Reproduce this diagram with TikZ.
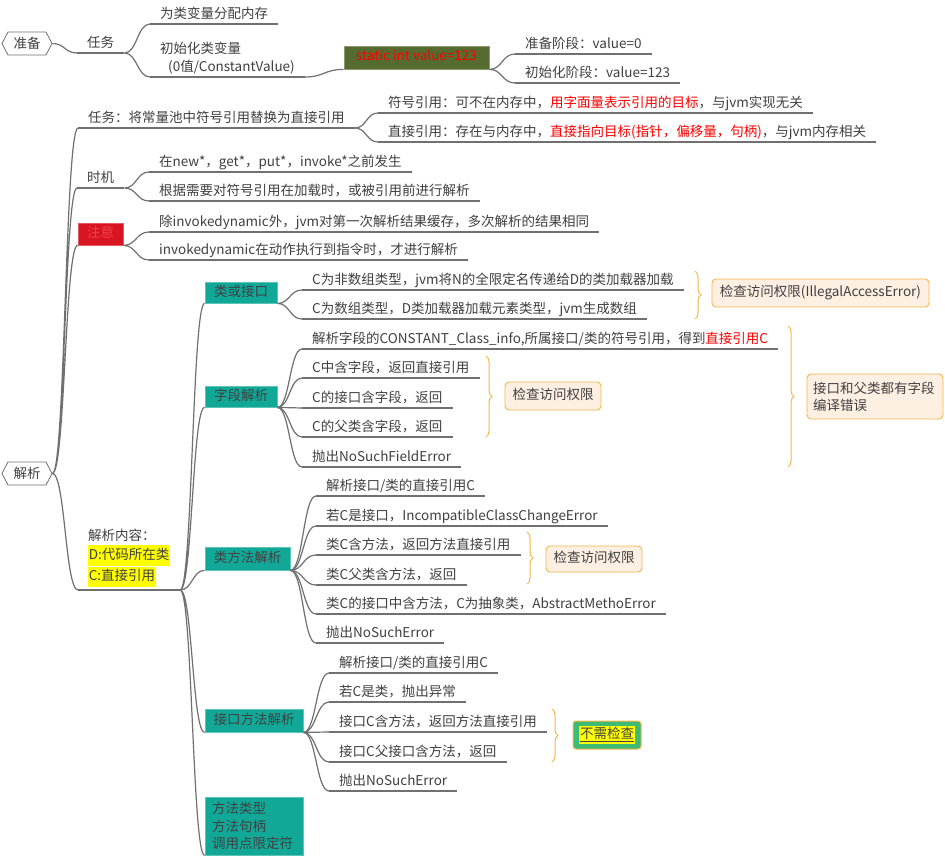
\documentclass[tikz,border=0pt]{standalone}
\usepackage{fontspec}
\setmainfont{Noto Sans CJK SC}
\usetikzlibrary{calc,shapes.symbols,decorations.pathreplacing}
\definecolor{txt}{HTML}{404040}
\definecolor{ln}{HTML}{707070}
\definecolor{tealf}{HTML}{12A897}
\definecolor{teald}{HTML}{5CC5B8}
\definecolor{redf}{HTML}{D7141F}
\definecolor{redt}{HTML}{F04050}
\definecolor{olive}{HTML}{556B2F}
\definecolor{oliveb}{HTML}{8C9A6C}
\definecolor{orng}{HTML}{F5B74A}
\definecolor{orf}{HTML}{FDEFE2}
\definecolor{grn}{HTML}{3DBB74}
\definecolor{hl}{HTML}{FFFF00}
\definecolor{rd}{HTML}{FF0000}
\newcommand\fs{\fontsize{13.5}{17}\selectfont}
\newcommand\hlt[1]{{\setlength{\fboxsep}{0.6pt}\colorbox{hl}{\strut #1}}}
\begin{document}
\begin{tikzpicture}[x=1pt,y=-1pt,
  base/.style={font=\fs, text=txt, inner xsep=10pt, inner ysep=2pt, anchor=south west},
  leaf/.style={base, text height=10.5pt, text depth=3.5pt},
  multi/.style={base, align=left, inner ysep=3pt},
  hex/.style={signal, signal to=west and east, signal pointer angle=125, draw=ln, line width=0.8pt, fill=white, minimum width=50pt, minimum height=23pt, inner sep=1pt, font=\fs, text=txt},
  tboxbase/.style={fill=tealf, draw=teald, line width=0.8pt, text=txt, font=\fs, inner sep=0pt},
  tbox/.style={tboxbase, minimum height=21pt, text height=10.5pt, text depth=3.5pt},
  ob/.style={draw=orng, fill=orf, rounded corners=4pt, line width=0.9pt, font=\fs, text=txt, inner sep=0pt, text height=10.5pt, text depth=3.5pt},
  conn/.style={draw=ln, line width=1.2pt},
  ul/.style={draw=ln, line width=1.2pt},
  br/.style={draw=orng, line width=1pt, decorate, decoration={brace, amplitude=6pt}},
  mm/.style={to path={let \p1=(\tikztostart), \p2=(\tikztotarget) in .. controls ({0.5*\x1+0.5*\x2},\y1) and ({0.5*\x1+0.5*\x2},\y2) .. (\tikztotarget)}}
]
\useasboundingbox[fill=white] (0,0) rectangle (945,856);

% ---------- 准备 ----------
\node[hex] (zb) at (27,43.5) {准备};
\node[leaf] (rw) at (77,53) {任务};
\node[leaf] (fp) at (150,24) {为类变量分配内存};
\node[multi, font=\fontsize{13.5}{18}\selectfont] (csh) at (150,77) {初始化类变量\\\hspace*{8pt}(0值/ConstantValue)};
\node[fill=olive, draw=oliveb, line width=0.8pt, minimum width=145pt, minimum height=23pt, inner sep=0pt, font=\fs, text=rd, text height=10.5pt, text depth=3.5pt] (st) at (416.5,57.5) {static int value=123};
\node[leaf] (zbv) at (515,54) {准备阶段：value=0};
\node[leaf] (csv) at (515,83) {初始化阶段：value=123};

\draw[conn] (zb.east) to[mm] (rw.south west);
\draw[conn] (rw.south east) to[mm] (fp.south west) (rw.south east) to[mm] (csh.south west);
\draw[conn] (csh.south east) to[mm] (st.south west);
\draw[conn] (st.south east) to[mm] (zbv.south west) (st.south east) to[mm] (csv.south west);

% ---------- 解析 ----------
\node[hex] (jx) at (27,473.5) {解析};
\node[leaf] (rw2) at (78,128) {任务：将常量池中符号引用替换为直接引用};
\node[leaf] (fh) at (378,113) {符号引用：可不在内存中，\textcolor{rd}{用字面量表示引用的目标}，与jvm实现无关};
\node[leaf] (zj) at (378,142) {直接引用：存在与内存中，\textcolor{rd}{直接指向目标(指针，偏移量，句柄)}，与jvm内存相关};
\node[leaf] (sj) at (77,188) {时机};
\node[leaf] (sj1) at (149,172) {在new*，get*，put*，invoke*之前发生};
\node[leaf] (sj2) at (149,201) {根据需要对符号引用在加载时，或被引用前进行解析};
\node[fill=redf, draw=redf!70!white, line width=0.8pt, minimum width=45pt, minimum height=22pt, inner sep=0pt, font=\fs, text=redt, text height=10.5pt, text depth=3.5pt] (zy) at (100.5,234) {注意};
\node[leaf] (zy1) at (149,232) {除invokedynamic外，jvm对第一次解析结果缓存，多次解析的结果相同};
\node[leaf] (zy2) at (149,260) {invokedynamic在动作执行到指令时，才进行解析};
\node[multi, font=\fontsize{13.5}{19}\selectfont] (nr) at (78,590) {解析内容：\\\hlt{D:代码所在类}\\\hlt{C:直接引用}};

\draw[conn] (jx.east) to[mm] (rw2.south west) (jx.east) to[mm] (sj.south west)
            (jx.east) to[mm] (zy.south west) (jx.east) to[mm] (nr.south west);
\draw[conn] (rw2.south east) to[mm] (fh.south west) (rw2.south east) to[mm] (zj.south west);
\draw[conn] (sj.south east) to[mm] (sj1.south west) (sj.south east) to[mm] (sj2.south west);
\draw[conn] (zy.south east) to[mm] (zy1.south west) (zy.south east) to[mm] (zy2.south west);

% sub boxes
\node[tbox, minimum width=72pt] (lh) at (241,292.5) {类或接口};
\node[tbox, minimum width=72pt] (zd) at (241,396.5) {字段解析};
\node[tbox, minimum width=85pt, minimum height=23pt] (lf) at (247.5,558.5) {类方法解析};
\node[tbox, minimum width=98pt, minimum height=23pt] (jk) at (254,720.5) {接口方法解析};
\node[tboxbase, minimum width=98pt, minimum height=58pt, align=left, text width=84pt, inner xsep=7pt, font=\fontsize{13.5}{17.5}\selectfont] (ff) at (254,826) {方法类型\\方法句柄\\调用点限定符};

\draw[conn] (nr.south east) to[mm] (lh.south west) (nr.south east) to[mm] (zd.south west)
            (nr.south east) to[mm] (lf.south west) (nr.south east) to[mm] (jk.south west)
            (nr.south east) to[mm] (ff.south west);

% 类或接口
\node[leaf] (lh1) at (302,290) {C为非数组类型，jvm将N的全限定名传递给D的类加载器加载};
\node[leaf] (lh2) at (302,319) {C为数组类型，D类加载器加载元素类型，jvm生成数组};
\draw[conn] (lh.south east) to[mm] (lh1.south west) (lh.south east) to[mm] (lh2.south west);

% 字段解析
\node[leaf] (zd1) at (302,349) {解析字段的CONSTANT\_Class\_info,所属接口/类的符号引用，得到\textcolor{rd}{直接引用C}};
\node[leaf] (zd2) at (302,378) {C中含字段，返回直接引用};
\node[leaf] (zd3) at (302,408) {C的接口含字段，返回};
\node[leaf] (zd4) at (302,437) {C的父类含字段，返回};
\node[leaf] (zd5) at (302,467) {抛出NoSuchFieldError};
\foreach \q in {zd1,zd2,zd3,zd4,zd5} \draw[conn] (zd.south east) to[mm] (\q.south west);

% 类方法解析
\node[leaf] (lf1) at (316,496) {解析接口/类的直接引用C};
\node[leaf] (lf2) at (316,526) {若C是接口，IncompatibleClassChangeError};
\node[leaf] (lf3) at (316,555) {类C含方法，返回方法直接引用};
\node[leaf] (lf4) at (316,585) {类C父类含方法，返回};
\node[leaf] (lf5) at (316,614) {类C的接口中含方法，C为抽象类，AbstractMethoError};
\node[leaf] (lf6) at (316,643) {抛出NoSuchError};
\foreach \q in {lf1,lf2,lf3,lf4,lf5,lf6} \draw[conn] (lf.south east) to[mm] (\q.south west);

% 接口方法解析
\node[leaf] (jk1) at (329,673) {解析接口/类的直接引用C};
\node[leaf] (jk2) at (329,702) {若C是类，抛出异常};
\node[leaf] (jk3) at (329,732) {接口C含方法，返回方法直接引用};
\node[leaf] (jk4) at (329,762) {接口C父接口含方法，返回};
\node[leaf] (jk5) at (329,791) {抛出NoSuchError};
\foreach \q in {jk1,jk2,jk3,jk4,jk5} \draw[conn] (jk.south east) to[mm] (\q.south west);

% underlines
\foreach \q in {rw,fp,csh,zbv,csv,rw2,fh,zj,sj,sj1,sj2,zy1,zy2,nr,lh1,lh2,zd1,zd2,zd3,zd4,zd5,lf1,lf2,lf3,lf4,lf5,lf6,jk1,jk2,jk3,jk4,jk5}
  \draw[ul] (\q.south west) -- (\q.south east);

% braces and notes
\coordinate (b1t) at (695,271); \coordinate (b1b) at (695,319);
\coordinate (b2t) at (486,356); \coordinate (b2b) at (486,437);
\coordinate (b3t) at (788,326); \coordinate (b3b) at (788,467);
\coordinate (b4t) at (527,532); \coordinate (b4b) at (527,584);
\coordinate (b5t) at (552,709); \coordinate (b5b) at (552,762);
\draw[br] (b1t) -- (b1b);
\draw[br] (b2t) -- (b2b);
\draw[br] (b3t) -- (b3b);
\draw[br] (b4t) -- (b4b);
\draw[br] (b5t) -- (b5b);

\node[ob, minimum width=217pt, minimum height=28pt] (ob1) at (820.5,293) {检查访问权限(IllegalAccessError)};
\node[ob, minimum width=96pt, minimum height=28pt] (ob2) at (553,396) {检查访问权限};
\node[draw=orng, fill=orf, rounded corners=4pt, line width=0.9pt, text=txt, minimum width=136pt, minimum height=45pt, align=left, text width=124pt, inner xsep=6pt, font=\fontsize{13.5}{17}\selectfont] (ob3) at (875,396.5) {接口和父类都有字段\\编译错误};
\node[ob, minimum width=96pt, minimum height=26pt] (ob4) at (594,559) {检查访问权限};
\node[draw=orng, fill=grn, rounded corners=3pt, line width=1pt, text=txt, minimum width=68pt, minimum height=28pt, inner sep=0pt, font=\fs] (gb) at (607,735) {\hlt{\underline{不需检查}}};
\end{tikzpicture}
\end{document}
